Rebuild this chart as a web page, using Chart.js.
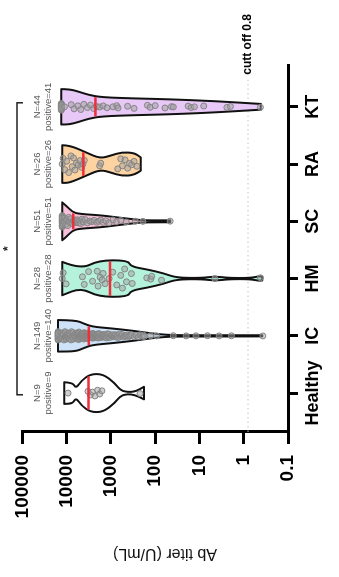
<!DOCTYPE html>
<html lang="en">
<head>
<meta charset="UTF-8">
<title>Ab titer by group</title>
<script src="https://cdn.jsdelivr.net/npm/chart.js@4.4.0/dist/chart.umd.min.js"></script>
<style>
  html, body { margin: 0; padding: 0; background: #fff; overflow: hidden; }
  /* chart is drawn upright and then turned a quarter to the left, like the figure */
  #wrap {
    position: absolute; left: 0; top: 0;
    width: 577px; height: 339px;
    transform-origin: 0 0;
    transform: translate(0, 577px) rotate(-90deg);
  }
</style>
</head>
<body>
<div id="wrap"><canvas id="violinChart" width="577" height="339"></canvas></div>
<script>
// groups and counts
const groups = ['Healthy', 'IC', 'HM', 'SC', 'RA', 'KT'];
const totalN = [9, 149, 28, 51, 26, 44];
const positiveN = [9, 140, 28, 51, 26, 41];
const medians = [3200, 3160, 1050, 7100, 4200, 2240];
const cutoff = 0.8;

// value axis
const yTicks = [100000, 10000, 1000, 100, 10, 1, 0.1];
const yTickLabels = ['100000', '10000', '1000', '100', '10', '1', '0.1'];

// violin outlines: [titer, relative density]
const healthyShape = [[11350, 0.57], [7300, 0.55], [6150, 0.24], [4600, 0.66], [2900, 1.0], [1500, 1.0], [820, 0.53], [580, 0.09], [300, 0.04], [180, 0.33]];
const icShape = [[15600, 0.83], [6200, 0.82], [4060, 0.64], [2660, 0.48], [965, 0.39], [297, 0.26], [127, 0.13], [55, 0.05], [28, 0.03], [0.38, 0.03]];
const hmShape = [[12600, 0.88], [4800, 0.49], [1900, 0.96], [417, 0.96], [351, 0.63], [151, 0.48], [65, 0.28], [33, 0.04], [8.6, 0.03], [4.4, 0.12], [2.2, 0.03], [0.68, 0.03], [0.45, 0.13], [0.38, 0.1]];
const scShape = [[12600, 1.0], [10300, 0.83], [7300, 0.48], [5240, 0.39], [1600, 0.31], [816, 0.22], [297, 0.1], [179, 0.05], [46, 0.05]];
const raShape = [[12600, 0.99], [8700, 0.99], [3700, 0.62], [1750, 0.29], [965, 0.46], [580, 0.62], [297, 0.59], [212, 0.35]];
const ktShape = [[13200, 0.93], [8700, 0.93], [5240, 0.79], [3150, 0.62], [1600, 0.5], [297, 0.44], [55, 0.4], [4.4, 0.3], [0.41, 0.15]];

// individual titers (U/mL)
const healthyDots = [9300, 3300, 2900, 2600, 2300, 2000, 1800, 1600, 220];
const icDots = [
  15600, 15600, 15600, 15600, 15600, 15600, 15600, 15600, 15600, 15600, 15600, 15600,
  14000, 13500, 13000, 12500, 12000, 11500, 11000, 10800, 10500, 10200, 10000, 9800,
  9500, 9200, 9000, 8800, 8500, 8200, 8000, 7800, 7500, 7200, 7000, 6800, 6600, 6400, 6200, 6000,
  5800, 5600, 5500, 5400, 5300, 5200, 5100, 5000, 4900,
  4800, 4700, 4600, 4500, 4400, 4300, 4200, 4100, 4000, 3950, 3900, 3800, 3750, 3700, 3650, 3600,
  3550, 3500, 3450, 3400, 3350, 3300, 3250, 3200, 3170,
  3100, 3000, 2950, 2900, 2850, 2800, 2700, 2650, 2600, 2550, 2500, 2450, 2400, 2350, 2300, 2250,
  2200, 2150, 2100, 2050, 2000, 1950, 1900, 1850, 1800, 1700, 1650, 1600, 1550, 1500, 1450, 1400,
  1350, 1300, 1250, 1200, 1150, 1100, 1050, 1000,
  960, 920, 880, 840, 800, 760, 720, 680, 640, 600, 560, 520, 490, 460, 430, 400, 370, 340,
  300, 270, 240, 220, 200, 185,
  178, 127, 93, 39, 20, 12, 6.6, 3.6, 1.9, 0.37
];
const hmDots = [12600, 12000, 10300, 4400, 4000, 3200, 2600, 2040, 1950, 1750, 1580, 1500, 1350, 1100,
  910, 740, 600, 550, 490, 445, 345, 330, 155, 126, 120, 72, 4.5, 0.42];
const scDots = [
  12600, 12600, 12600, 12600, 12600, 12600, 12600, 12600, 12600, 12600, 12600, 12600,
  12000, 11500, 11000, 10500, 10000, 9500, 9000, 8500, 8000, 7500,
  7000, 6800, 6500, 6200, 6000, 5700, 5400, 5100, 4800, 4500, 4200, 3800, 3400, 3000,
  2700, 2400, 2100, 1900, 1700, 1500, 1300, 1100,
  900, 750, 600, 450, 280, 190, 46
];
const raDots = [12600, 12000, 11000, 10000, 9000, 8000, 7500, 7000, 6500, 6000, 5500, 5000, 4600, 4300, 4000,
  1800, 1700, 700, 600, 550, 480, 420, 380, 340, 300, 260];
const ktDots = [
  13200, 13200, 13200, 13200, 13200, 13200, 13200, 13200, 13200, 13200, 13200, 13200,
  13200, 11200, 7900, 6800, 5600, 4800, 4100, 3400, 2900, 2450,
  2100, 1800, 1500, 1230, 900, 740, 690, 420, 300, 150, 130, 100, 60, 43, 39, 18, 15.5, 13, 8, 2.4, 2.0, 0.42
];

const shapes = [healthyShape, icShape, hmShape, scShape, raShape, ktShape];
const dots = [healthyDots, icDots, hmDots, scDots, raDots, ktDots];
const fills = ['#ffffff', '#cfe3f8', '#b4f2dc', '#f9c0da', '#fdd3a2', '#e7c8f6'];
const dotSpread = [0.2, 0.35, 0.7, 0.4, 0.6, 0.25];  // how far dots wander from the centre line

const violinHalf = 0.332;                     // widest half-width, in category units
const spread = [0, 0.5, -0.5, 0.25, -0.75, 0.75, -0.25, 0.6, -0.6, 0.1, -0.1, 0.4, -0.4];

// half width of a violin at a given titer (log interpolation)
function densityAt(shape, v) {
  const lv = Math.log10(v);
  if (lv >= Math.log10(shape[0][0])) return shape[0][1];
  for (let k = 1; k < shape.length; k++) {
    const a = Math.log10(shape[k - 1][0]), b = Math.log10(shape[k][0]);
    if (lv >= b) {
      const t = (lv - a) / (b - a);
      return shape[k - 1][1] + t * (shape[k][1] - shape[k - 1][1]);
    }
  }
  return shape[shape.length - 1][1];
}

function smoothTo(ctx, pts) {
  for (let k = 1; k < pts.length - 1; k++) {
    const mx = (pts[k].px + pts[k + 1].px) / 2, my = (pts[k].py + pts[k + 1].py) / 2;
    ctx.quadraticCurveTo(pts[k].px, pts[k].py, mx, my);
  }
  const last = pts[pts.length - 1];
  ctx.lineTo(last.px, last.py);
}

const datasets = dots.map((vals, i) => ({
  label: groups[i],
  data: vals.map((v, j) => ({
    x: i + spread[j % spread.length] * densityAt(shapes[i], v) * violinHalf * dotSpread[i],
    y: v
  })),
  pointRadius: 3,
  pointBackgroundColor: 'rgba(160,160,160,0.5)',
  pointBorderColor: '#858585',
  pointBorderWidth: 1
}));

const violinPlugin = {
  id: 'violins',
  beforeDatasetsDraw(chart) {
    const { ctx, chartArea } = chart;
    const x = chart.scales.x, y = chart.scales.y;

    // cut-off line
    const yc = y.getPixelForValue(cutoff);
    ctx.save();
    ctx.strokeStyle = '#c4c4c4';
    ctx.lineWidth = 1;
    ctx.setLineDash([1.5, 3]);
    ctx.beginPath();
    ctx.moveTo(chartArea.left, yc);
    ctx.lineTo(x.getPixelForValue(5.47), yc);
    ctx.stroke();
    ctx.restore();

    ctx.save();
    ctx.font = 'bold 12px "Liberation Sans", Arial, sans-serif';
    ctx.fillStyle = '#000';
    ctx.textAlign = 'left';
    ctx.textBaseline = 'middle';
    ctx.fillText('cutt off 0.8', x.getPixelForValue(5.56), yc);
    ctx.restore();

    // violin bodies
    shapes.forEach((shape, i) => {
      const cx = x.getPixelForValue(i);
      const unit = x.getPixelForValue(i + violinHalf) - cx;
      const right = shape.map(([v, d]) => ({ px: cx + d * unit, py: y.getPixelForValue(v) }));
      const left = shape.map(([v, d]) => ({ px: cx - d * unit, py: y.getPixelForValue(v) })).reverse();
      ctx.save();
      ctx.beginPath();
      ctx.moveTo(left[left.length - 1].px, left[left.length - 1].py);
      ctx.lineTo(right[0].px, right[0].py);
      smoothTo(ctx, right);
      ctx.lineTo(left[0].px, left[0].py);
      smoothTo(ctx, left);
      ctx.closePath();
      ctx.fillStyle = fills[i];
      ctx.fill();
      ctx.lineWidth = 2;
      ctx.lineJoin = 'round';
      ctx.strokeStyle = '#111';
      ctx.stroke();
      ctx.restore();
    });
  },
  afterDatasetsDraw(chart) {
    const { ctx } = chart;
    const x = chart.scales.x, y = chart.scales.y;
    // medians
    medians.forEach((m, i) => {
      const cx = x.getPixelForValue(i);
      const half = x.getPixelForValue(i + violinHalf * densityAt(shapes[i], m)) - cx;
      const py = y.getPixelForValue(m);
      ctx.save();
      ctx.strokeStyle = '#ec2f3b';
      ctx.lineWidth = 2.5;
      ctx.beginPath();
      ctx.moveTo(cx - half + 1, py);
      ctx.lineTo(cx + half - 1, py);
      ctx.stroke();
      ctx.restore();
    });
  },
  afterDraw(chart) {
    const { ctx } = chart;
    const x = chart.scales.x;

    // N / positive counts
    ctx.save();
    ctx.font = '9.5px "Liberation Sans", Arial, sans-serif';
    ctx.fillStyle = '#555';
    ctx.textAlign = 'center';
    ctx.textBaseline = 'middle';
    groups.forEach((g, i) => {
      const cx = x.getPixelForValue(i);
      ctx.fillText('N=' + totalN[i], cx, 37);
      ctx.fillText('positive=' + positiveN[i], cx, 48);
    });
    ctx.restore();

    // significance bracket
    const x0 = x.getPixelForValue(-0.03), x1 = x.getPixelForValue(5.07);
    ctx.save();
    ctx.strokeStyle = '#222';
    ctx.lineWidth = 1.5;
    ctx.beginPath();
    ctx.moveTo(x0, 23);
    ctx.lineTo(x0, 17);
    ctx.lineTo(x1, 17);
    ctx.lineTo(x1, 23);
    ctx.stroke();
    ctx.font = 'bold 12px "Liberation Sans", Arial, sans-serif';
    ctx.fillStyle = '#222';
    ctx.textAlign = 'center';
    ctx.textBaseline = 'middle';
    ctx.fillText('*', (x0 + x1) / 2, 9);
    ctx.restore();

    // value axis title
    ctx.save();
    ctx.translate(24, 165);
    ctx.rotate(-Math.PI / 2);
    ctx.font = '16px "Liberation Sans", Arial, sans-serif';
    ctx.fillStyle = '#111';
    ctx.textAlign = 'center';
    ctx.textBaseline = 'middle';
    ctx.fillText('Ab titer (U/mL)', 0, 0);
    ctx.restore();
  }
};

const axisFont = { family: '"Liberation Sans", Arial, sans-serif', size: 19, weight: 'bold' };

new Chart(document.getElementById('violinChart'), {
  type: 'scatter',
  data: { datasets },
  options: {
    responsive: false,
    animation: false,
    layout: { padding: { left: 0, right: 65, top: 15, bottom: 0 } },
    plugins: { legend: { display: false }, tooltip: { enabled: false } },
    scales: {
      x: {
        type: 'linear',
        min: -0.68,
        max: 5.73,
        afterBuildTicks: s => { s.ticks = groups.map((g, i) => ({ value: i })); },
        afterFit: s => { s.height = 51; },
        ticks: {
          callback: v => groups[v],
          font: { family: axisFont.family, size: 18, weight: 'bold' },
          color: '#000',
          padding: 4,
          maxRotation: 0,
          autoSkip: false
        },
        grid: { drawOnChartArea: false, tickLength: 10, tickWidth: 3, tickColor: '#000' },
        border: { color: '#000', width: 3 }
      },
      y: {
        type: 'logarithmic',
        min: 0.1,
        max: 100000,
        afterBuildTicks: s => { s.ticks = yTicks.map(v => ({ value: v })); },
        afterFit: s => { s.width = 145; },
        ticks: {
          callback: (v) => yTickLabels[yTicks.indexOf(v)],
          font: axisFont,
          color: '#000',
          padding: 11
        },
        grid: { drawOnChartArea: false, tickLength: 12, tickWidth: 3, tickColor: '#000' },
        border: { color: '#000', width: 3 }
      }
    }
  },
  plugins: [violinPlugin]
});
</script>
</body>
</html>
